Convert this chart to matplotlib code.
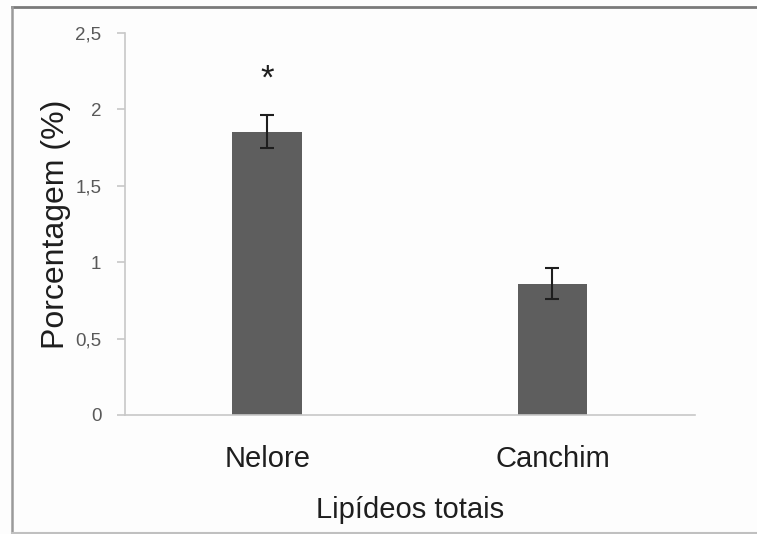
import matplotlib
matplotlib.use('Agg')
import matplotlib.pyplot as plt
from matplotlib.lines import Line2D

breeds = ['Nelore', 'Canchim']
lipid_mean = [1.855, 0.86]
lipid_err = [0.107, 0.10]
signif = ['*', '']
yticks = [0, 0.5, 1, 1.5, 2, 2.5]
ytick_labels = ['0', '0,5', '1', '1,5', '2', '2,5']

plt.rcParams['font.family'] = ['Liberation Sans', 'DejaVu Sans']

fig = plt.figure(figsize=(7.57, 5.34), dpi=100)
fig.patch.set_facecolor('#fdfdfd')

# frame around the chart (top, left, bottom only; right side is cut off in the original)
W, H = 757, 534
fig.add_artist(Line2D([12/W, 1], [1 - 7/H, 1 - 7/H], transform=fig.transFigure,
                      color='#7a7a7a', lw=2))
fig.add_artist(Line2D([12/W, 12/W], [1 - 7/H, 1/H], transform=fig.transFigure,
                      color='#9a9a9a', lw=1.8))
fig.add_artist(Line2D([12/W, 1], [1.2/H, 1.2/H], transform=fig.transFigure,
                      color='#c0c0c0', lw=1.5))

ax = fig.add_axes([0.165, 0.223, 0.753, 0.715])
ax.set_facecolor('#fdfdfd')

x = list(range(len(breeds)))
ax.bar(x, lipid_mean, width=0.245, color='#5e5e5e', yerr=lipid_err, capsize=5,
       error_kw=dict(ecolor='#1e1e1e', elinewidth=1.5, capthick=1.5))

for i, s in enumerate(signif):
    if s:
        ax.text(i, lipid_mean[i] + lipid_err[i] + 0.24, s, ha='center', va='center',
                fontsize=25, color='#1e1e1e')

ax.set_xlim(-0.5, 1.5)
ax.set_ylim(0, 2.5)
ax.set_yticks(yticks)
ax.set_yticklabels(ytick_labels)
ax.set_xticks(x)
ax.set_xticklabels(breeds)

for side in ['top', 'right']:
    ax.spines[side].set_visible(False)
for side in ['left', 'bottom']:
    ax.spines[side].set_color('#c8c8c8')
    ax.spines[side].set_linewidth(1.2)

ax.tick_params(axis='y', length=6, width=1.2, color='#c8c8c8', labelsize=13.5,
               labelcolor='#595959', pad=11)
ax.tick_params(axis='x', length=0, labelsize=21, labelcolor='#1e1e1e', pad=22)

ax.set_ylabel('Porcentagem (%)', fontsize=23, color='#1e1e1e', labelpad=3)
ax.set_xlabel('Lipídeos totais', fontsize=21, color='#1e1e1e', labelpad=16)

fig.savefig('out.png', dpi=100)
